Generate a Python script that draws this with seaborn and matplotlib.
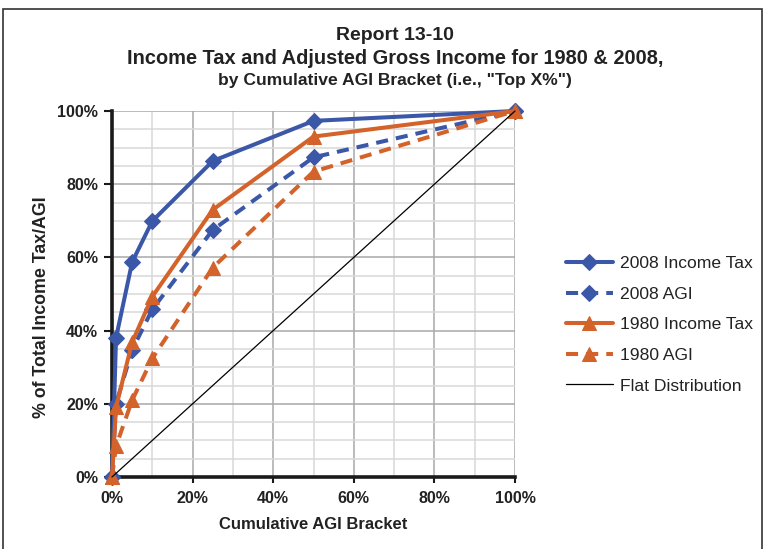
import matplotlib
matplotlib.use("Agg")
import matplotlib.pyplot as plt
from matplotlib.patches import Rectangle
from matplotlib.ticker import MultipleLocator, PercentFormatter
import seaborn as sns
import pandas as pd

# Cumulative AGI bracket ("Top X%") and shares of total income tax / AGI, in percent
brackets = [0, 1, 5, 10, 25, 50, 100]
tax_2008 = [0, 38.02, 58.72, 69.94, 86.34, 97.30, 100]
agi_2008 = [0, 20.00, 34.73, 45.79, 67.52, 87.34, 100]
tax_1980 = [0, 19.05, 36.84, 49.28, 73.02, 93.01, 100]
agi_1980 = [0, 8.46, 20.97, 32.39, 57.21, 83.44, 100]
flat = [0, 100]
flat_x = [0, 100]

series_labels = ["2008 Income Tax", "2008 AGI", "1980 Income Tax", "1980 AGI", "Flat Distribution"]

BLUE = "#3B57A7"
ORANGE = "#D3622B"

sns.set_theme(style="white")
plt.rcParams["font.family"] = ["Liberation Sans", "DejaVu Sans"]

fig = plt.figure(figsize=(7.65, 5.49), dpi=100)
ax = fig.add_axes([112 / 765, 72 / 549, 403 / 765, 366 / 549])

# Light minor grid and darker major grid, like a spreadsheet chart
ax.xaxis.set_minor_locator(MultipleLocator(10))
ax.yaxis.set_minor_locator(MultipleLocator(5))
ax.xaxis.set_major_locator(MultipleLocator(20))
ax.yaxis.set_major_locator(MultipleLocator(20))
ax.grid(which="minor", color="#D9D9D9", linewidth=1.1)
ax.grid(which="major", color="#A8A8A8", linewidth=1.1)
ax.set_axisbelow(True)

dash = (3.0, 2.0)
styles = [
    (tax_2008, BLUE, "D", "-", 8.5),
    (agi_2008, BLUE, "D", (0, dash), 8.5),
    (tax_1980, ORANGE, "^", "-", 10.5),
    (agi_1980, ORANGE, "^", (0, dash), 10.5),
]
for (vals, color, marker, ls, ms), label in zip(styles, series_labels):
    df = pd.DataFrame({"bracket": brackets, "share": vals})
    sns.lineplot(data=df, x="bracket", y="share", ax=ax, color=color, marker=marker,
                 markersize=ms, markeredgecolor=color, linewidth=2.9, linestyle=ls,
                 label=label, clip_on=False, zorder=3)

df_flat = pd.DataFrame({"bracket": flat_x, "share": flat})
sns.lineplot(data=df_flat, x="bracket", y="share", ax=ax, color="black", linewidth=0.9,
             label=series_labels[4], clip_on=False, zorder=4)

ax.set_xlim(0, 100)
ax.set_ylim(0, 100)
ax.xaxis.set_major_formatter(PercentFormatter(decimals=0))
ax.yaxis.set_major_formatter(PercentFormatter(decimals=0))

for side in ["top", "right"]:
    ax.spines[side].set_visible(False)
for side in ["left", "bottom"]:
    ax.spines[side].set_color("#1A1A1A")
    ax.spines[side].set_linewidth(2.6)
    ax.spines[side].set_zorder(2.5)

ax.tick_params(axis="y", which="major", left=True, length=6, width=1.5, color="#1A1A1A",
               labelsize=11.5, pad=4)
ax.tick_params(axis="x", which="major", bottom=True, length=4, width=1.5, color="#1A1A1A",
               labelsize=11.5, pad=6)
ax.tick_params(which="minor", length=0)
for lbl in ax.get_xticklabels() + ax.get_yticklabels():
    lbl.set_fontweight("bold")
    lbl.set_color("#222222")

ax.set_xlabel("Cumulative AGI Bracket", fontsize=12, fontweight="bold", color="#222222", labelpad=8)
ax.set_ylabel("% of Total Income Tax/AGI", fontsize=12.8, fontweight="bold", color="#222222")
ax.yaxis.set_label_coords(-0.154, 0.464)

# Titles
fig.text(395 / 765, 1 - 36 / 549, "Report 13-10", ha="center", va="center",
         fontsize=14, fontweight="bold", color="#222222")
fig.text(395 / 765, 1 - 59 / 549, "Income Tax and Adjusted Gross Income for 1980 & 2008,",
         ha="center", va="center", fontsize=14.4, fontweight="bold", color="#222222")
fig.text(395 / 765, 1 - 80 / 549, 'by Cumulative AGI Bracket (i.e., "Top X%")',
         ha="center", va="center", fontsize=12.6, fontweight="bold", color="#222222")

# Legend outside the plot area on the right
h, l = ax.get_legend_handles_labels()
ax.legend_.remove()
fig.legend(h, l, loc="upper left", bbox_to_anchor=(550 / 765, 1 - 240 / 549), frameon=False,
           prop={"family": ["Liberation Sans", "DejaVu Sans"], "size": 12.6},
           handlelength=2.7, handletextpad=0.4, labelspacing=0.88, labelcolor="#222222")

# Outer chart border
fig.patches.append(Rectangle((3 / 765, -0.05), 759 / 765, 1.05 - 9 / 549, transform=fig.transFigure,
                             fill=False, edgecolor="#333333", linewidth=1.2))

fig.savefig("out.png", dpi=100, facecolor="white")
